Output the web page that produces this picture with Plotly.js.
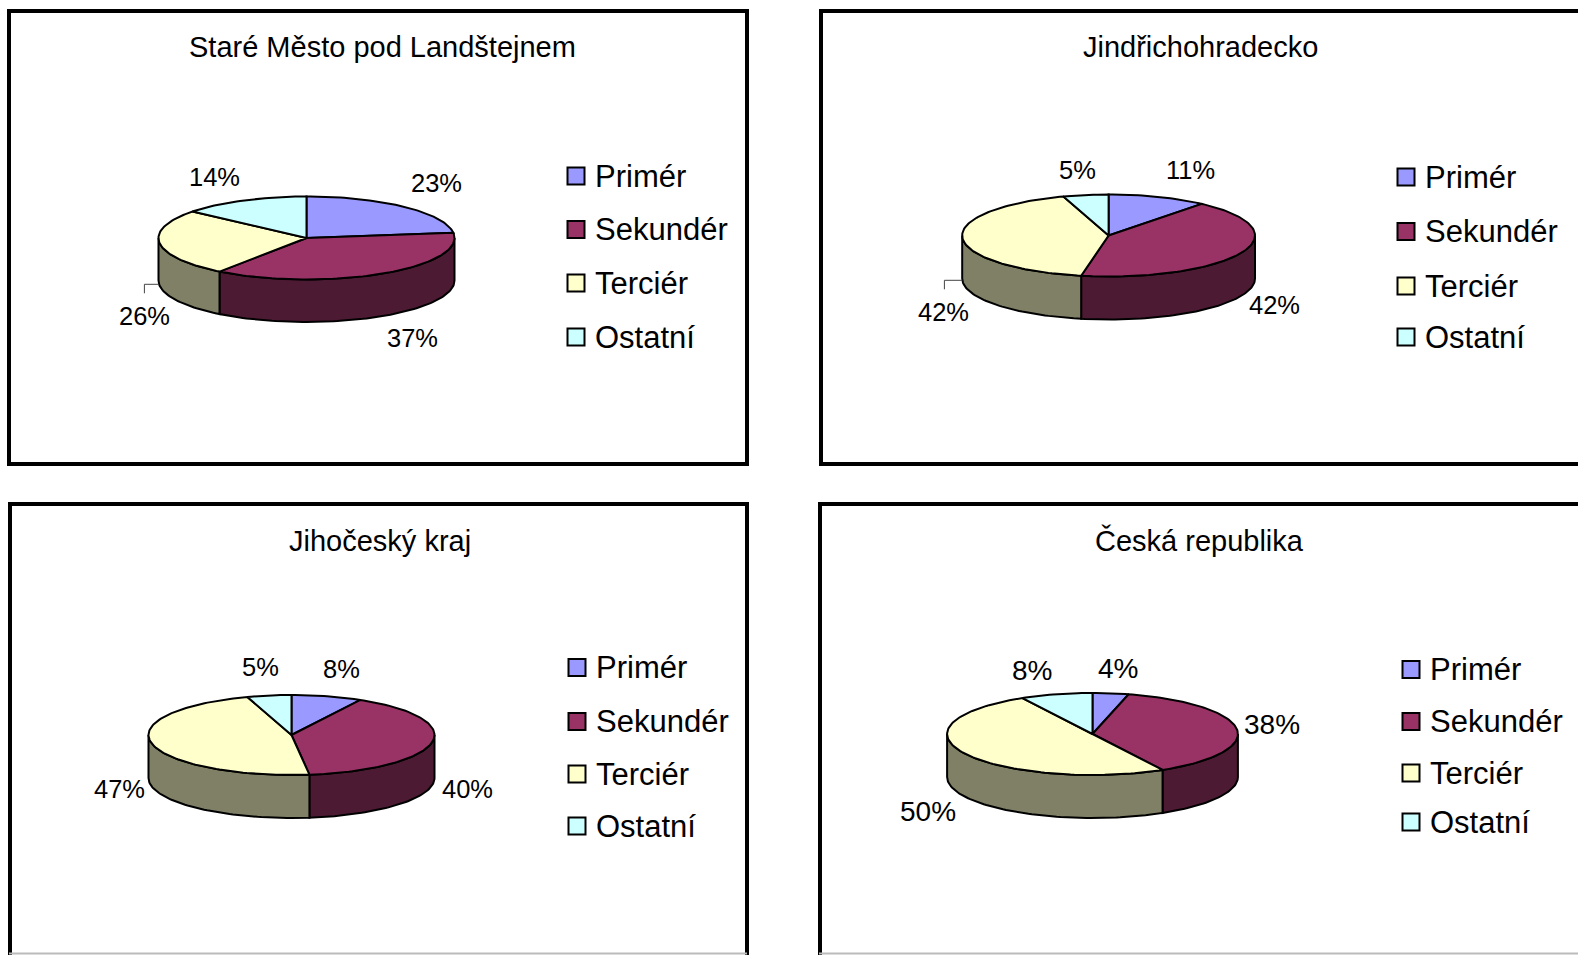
<!DOCTYPE html>
<html>
<head>
<meta charset="utf-8">
<script src="https://cdn.plot.ly/plotly-3.0.1.min.js"></script>
<style>html,body{margin:0;padding:0;background:#fff;overflow:hidden}</style>
</head>
<body>
<div id="chart" style="width:1578px;height:955px"></div>
<script>
// ---- data ----
const categories = ['Primér', 'Sekundér', 'Terciér', 'Ostatní'];
const titles = ['Staré Město pod Landštejnem', 'Jindřichohradecko', 'Jihočeský kraj', 'Česká republika'];
const valuesStare = [23, 37, 26, 14];
const valuesJindrich = [11, 42, 42, 5];
const valuesJihocesky = [8, 40, 47, 5];
const valuesCesko = [4, 38, 50, 8];
const allValues = [valuesStare, valuesJindrich, valuesJihocesky, valuesCesko];

// ---- styles ----
const topColors = ['#9999FF', '#993366', '#FFFFCC', '#CCFFFF'];
const sideColors = ['#4D4D80', '#4D1A33', '#808066', '#668080'];
const FONT = '"Liberation Sans", Arial, sans-serif';
const labelSizes = [25.5, 25.5, 25.5, 28];

// ---- layout geometry (page pixels, used as axis units) ----
const panels = [
  {x0: 9, x1: 747, y0: 11, y1: 464},
  {x0: 821, x1: 1600, y0: 11, y1: 464},
  {x0: 10, x1: 747, y0: 504, y1: 1000},
  {x0: 820, x1: 1600, y0: 504, y1: 1000}
];
const pies = [
  {cx: 306.5, cy: 238, rx: 148, ry: 41.5, d: 42.5},
  {cx: 1108.6, cy: 235.5, rx: 146.4, ry: 41, d: 43},
  {cx: 291.5, cy: 735, rx: 143, ry: 40, d: 43},
  {cx: 1092.5, cy: 734, rx: 145.4, ry: 41, d: 43}
];
const titlePos = [[382, 46.5], [1200.6, 46.5], [380.4, 540.8], [1199.6, 540.8]];
const labelPos = [
  [[436, 183], [412, 338], [144, 316], [214, 177]],
  [[1190.5, 170], [1274, 305], [943, 312], [1077, 170]],
  [[341, 669], [467, 789], [119, 789], [260, 667]],
  [[1118, 668], [1272, 724], [928, 811], [1031.5, 670]]
];
const legendX = [[576, 592.5], [1406, 1422.5], [577, 593.5], [1411, 1427.5]];
const legendY = [
  [176, 229.5, 283, 337],
  [177, 231.5, 286, 337],
  [667.5, 721.5, 774, 826],
  [669.5, 721.5, 773, 822]
];
const leaders = [
  {x: [158.5, 144.4, 144.4], y: [284.3, 284.3, 293.3]},
  {x: [962.3, 944.4, 944.4], y: [280.3, 280.3, 289.3]}
];
const bottomEdges = [[9, 747], [819, 1578]];

const traces = [];
const annotations = [];
const shapes = [];
const rad = d => d * Math.PI / 180;

function arc(p, a0, a1, dy) {
  const n = Math.max(2, Math.ceil(Math.abs(a1 - a0) / 1.5));
  const xs = [], ys = [];
  for (let i = 0; i <= n; i++) {
    const a = rad(a0 + (a1 - a0) * i / n);
    xs.push(p.cx + p.rx * Math.sin(a));
    ys.push(p.cy - p.ry * Math.cos(a) + dy);
  }
  return {xs, ys};
}

allValues.forEach((vals, k) => {
  const p = pies[k];
  const total = vals.reduce((s, v) => s + v, 0);
  let cum = 0;
  const spans = vals.map(v => { const a = cum; cum += v; return [a / total * 360, cum / total * 360]; });

  // front walls
  spans.forEach((s, i) => {
    const a0 = Math.max(s[0], 90), a1 = Math.min(s[1], 270);
    if (a1 <= a0) return;
    const t = arc(p, a0, a1, 0), b = arc(p, a1, a0, p.d);
    traces.push({
      type: 'scatter', mode: 'lines', x: [...t.xs, ...b.xs, t.xs[0]], y: [...t.ys, ...b.ys, t.ys[0]],
      fill: 'toself', fillcolor: sideColors[i], line: {color: '#000', width: 2},
      hoverinfo: 'skip', showlegend: false
    });
  });
  // top slices
  spans.forEach((s, i) => {
    const t = arc(p, s[0], s[1], 0);
    traces.push({
      type: 'scatter', mode: 'lines', x: [p.cx, ...t.xs, p.cx], y: [p.cy, ...t.ys, p.cy],
      fill: 'toself', fillcolor: topColors[i], line: {color: '#000', width: 2},
      name: categories[i], text: vals[i] + '%', hoverinfo: 'name+text', showlegend: false
    });
  });

  // panel frame
  const f = panels[k];
  shapes.push({type: 'rect', xref: 'x', yref: 'y', x0: f.x0, x1: f.x1, y0: f.y0, y1: f.y1,
    line: {color: '#000', width: 4}, fillcolor: 'rgba(0,0,0,0)', layer: 'below'});

  // title
  annotations.push({xref: 'x', yref: 'y', x: titlePos[k][0], y: titlePos[k][1], text: titles[k], showarrow: false,
    xanchor: 'center', yanchor: 'middle', font: {family: FONT, size: 29, color: '#000'}});

  // percentage labels
  vals.forEach((v, i) => {
    annotations.push({xref: 'x', yref: 'y', x: labelPos[k][i][0], y: labelPos[k][i][1], text: v + '%', showarrow: false,
      xanchor: 'center', yanchor: 'middle', font: {family: FONT, size: labelSizes[k], color: '#000'}});
  });

  // legend
  traces.push({
    type: 'scatter', mode: 'markers', x: categories.map(() => legendX[k][0]), y: legendY[k],
    marker: {symbol: 'square', size: 17, color: topColors, line: {color: '#000', width: 2}},
    hoverinfo: 'skip', showlegend: false
  });
  categories.forEach((c, i) => {
    annotations.push({xref: 'x', yref: 'y', x: legendX[k][1], y: legendY[k][i], text: c, showarrow: false,
      xanchor: 'left', yanchor: 'middle', font: {family: FONT, size: 31, color: '#000'}});
  });
});

leaders.forEach(l => traces.push({
  type: 'scatter', mode: 'lines', x: l.x, y: l.y, line: {color: '#444', width: 1},
  hoverinfo: 'skip', showlegend: false
}));

bottomEdges.forEach(e => shapes.push({type: 'line', xref: 'x', yref: 'y', x0: e[0], x1: e[1], y0: 953.5, y1: 953.5,
  line: {color: '#BBBBBB', width: 2}, layer: 'below'}));

const hiddenAxis = {visible: false, fixedrange: true, showgrid: false, zeroline: false};
Plotly.newPlot('chart', traces, {
  width: 1578, height: 955,
  margin: {l: 0, r: 0, t: 0, b: 0, pad: 0},
  paper_bgcolor: '#fff', plot_bgcolor: '#fff',
  xaxis: Object.assign({range: [0, 1578]}, hiddenAxis),
  yaxis: Object.assign({range: [955, 0]}, hiddenAxis),
  showlegend: false, shapes, annotations
}, {displayModeBar: false, staticPlot: false});
</script>
</body>
</html>
